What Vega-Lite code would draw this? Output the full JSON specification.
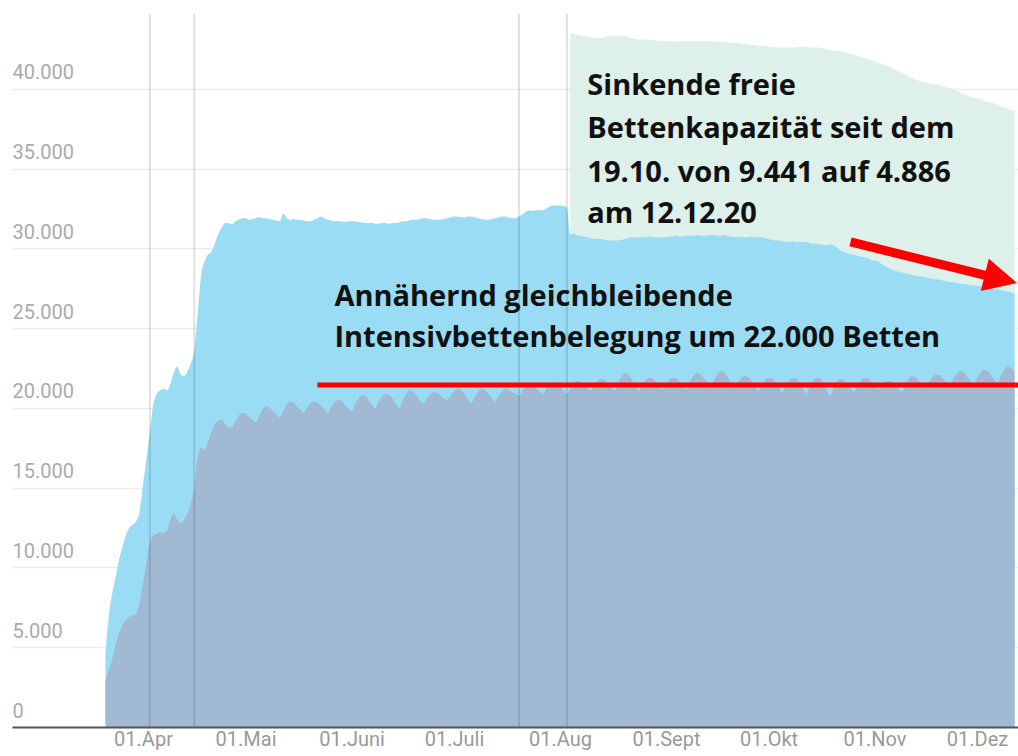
{
"$schema": "https://vega.github.io/schema/vega-lite/v6.json",
"width": 1006, "height": 713,
"autosize": {"type": "none"},
"padding": {"left": 12, "top": 14, "right": 0, "bottom": 29},
"background": "white",
"config": {"view": {"stroke": null},
 "axisY": {"labelExpr": "replace(format(datum.value, ','), ',', '.')",
   "grid": true, "gridColor": "#000000", "gridOpacity": 0.08, "gridWidth": 1.5,
   "ticks": false, "tickSize": 0, "domain": false,
   "labelAlign": "left", "labelPadding": 0, "labelBaseline": "alphabetic", "labelOffset": -10,
   "labelFont": "Roboto", "labelFontSize": 20, "labelColor": "#aaaaaa", "zindex": 1}},
"datasets": {
"main": [
{"d":"2020-03-21","b":4500,"g":2900},{"d":"2020-03-22","b":7000,"g":3600},{"d":"2020-03-23","b":8400,"g":4300},{"d":"2020-03-24","b":9400,"g":5200},{"d":"2020-03-25","b":10500,"g":5900},{"d":"2020-03-26","b":11300,"g":6400},{"d":"2020-03-27","b":12000,"g":6700},{"d":"2020-03-28","b":12500,"g":6900},{"d":"2020-03-29","b":12700,"g":7000},{"d":"2020-03-30","b":12900,"g":7100},{"d":"2020-03-31","b":13500,"g":7800},
{"d":"2020-04-01","b":15200,"g":9000},{"d":"2020-04-02","b":16800,"g":10300},{"d":"2020-04-03","b":18500,"g":11600},{"d":"2020-04-04","b":20200,"g":12000},{"d":"2020-04-05","b":20900,"g":12100},{"d":"2020-04-06","b":21100,"g":12200},{"d":"2020-04-07","b":21200,"g":12200},{"d":"2020-04-08","b":21100,"g":12300},{"d":"2020-04-09","b":21500,"g":13000},{"d":"2020-04-10","b":22200,"g":13400},{"d":"2020-04-11","b":22600,"g":13000},{"d":"2020-04-12","b":22100,"g":12800},{"d":"2020-04-13","b":22000,"g":13000},{"d":"2020-04-14","b":22300,"g":13400},{"d":"2020-04-15","b":22800,"g":14000},{"d":"2020-04-16","b":23600,"g":15000},{"d":"2020-04-17","b":25900,"g":16900},{"d":"2020-04-18","b":28300,"g":17500},{"d":"2020-04-19","b":29200,"g":17400},{"d":"2020-04-20","b":29600,"g":17900},{"d":"2020-04-21","b":29800,"g":18500},{"d":"2020-04-22","b":30300,"g":19000},{"d":"2020-04-23","b":30900,"g":19200},{"d":"2020-04-24","b":31300,"g":19300},{"d":"2020-04-25","b":31600,"g":19000},{"d":"2020-04-26","b":31600,"g":18800},{"d":"2020-04-27","b":31500,"g":18800},{"d":"2020-04-28","b":31700,"g":19150},{"d":"2020-04-29","b":31800,"g":19500},{"d":"2020-04-30","b":31900,"g":19700},
{"d":"2020-05-01","b":31900,"g":19650},{"d":"2020-05-02","b":31800,"g":19450},{"d":"2020-05-03","b":31850,"g":19250},{"d":"2020-05-04","b":31900,"g":19100},{"d":"2020-05-05","b":31950,"g":19500},{"d":"2020-05-06","b":31900,"g":19900},{"d":"2020-05-07","b":31900,"g":20100},{"d":"2020-05-08","b":31850,"g":20050},{"d":"2020-05-09","b":31800,"g":19800},{"d":"2020-05-10","b":31750,"g":19600},{"d":"2020-05-11","b":31700,"g":19400},{"d":"2020-05-12","b":32200,"g":19800},{"d":"2020-05-13","b":31900,"g":20200},{"d":"2020-05-14","b":31800,"g":20400},{"d":"2020-05-15","b":31850,"g":20350},{"d":"2020-05-16","b":31800,"g":20100},{"d":"2020-05-17","b":31800,"g":19900},{"d":"2020-05-18","b":31750,"g":19700},{"d":"2020-05-19","b":31700,"g":20000},{"d":"2020-05-20","b":31700,"g":20300},{"d":"2020-05-21","b":31800,"g":20400},{"d":"2020-05-22","b":31900,"g":20350},{"d":"2020-05-23","b":32000,"g":20150},{"d":"2020-05-24","b":31900,"g":19900},{"d":"2020-05-25","b":31800,"g":19700},{"d":"2020-05-26","b":31750,"g":20050},{"d":"2020-05-27","b":31700,"g":20350},{"d":"2020-05-28","b":31700,"g":20500},{"d":"2020-05-29","b":31700,"g":20450},{"d":"2020-05-30","b":31650,"g":20200},{"d":"2020-05-31","b":31700,"g":20000},
{"d":"2020-06-01","b":31700,"g":19800},{"d":"2020-06-02","b":31700,"g":20200},{"d":"2020-06-03","b":31650,"g":20600},{"d":"2020-06-04","b":31650,"g":20800},{"d":"2020-06-05","b":31600,"g":20750},{"d":"2020-06-06","b":31600,"g":20500},{"d":"2020-06-07","b":31600,"g":20200},{"d":"2020-06-08","b":31550,"g":20000},{"d":"2020-06-09","b":31550,"g":20400},{"d":"2020-06-10","b":31600,"g":20750},{"d":"2020-06-11","b":31600,"g":20900},{"d":"2020-06-12","b":31550,"g":20850},{"d":"2020-06-13","b":31600,"g":20600},{"d":"2020-06-14","b":31600,"g":20250},{"d":"2020-06-15","b":31650,"g":20000},{"d":"2020-06-16","b":31700,"g":20450},{"d":"2020-06-17","b":31700,"g":20900},{"d":"2020-06-18","b":31750,"g":21100},{"d":"2020-06-19","b":31800,"g":21050},{"d":"2020-06-20","b":31800,"g":20800},{"d":"2020-06-21","b":31850,"g":20500},{"d":"2020-06-22","b":31900,"g":20300},{"d":"2020-06-23","b":31900,"g":20600},{"d":"2020-06-24","b":31850,"g":20850},{"d":"2020-06-25","b":31800,"g":21000},{"d":"2020-06-26","b":31800,"g":20950},{"d":"2020-06-27","b":31800,"g":20800},{"d":"2020-06-28","b":31850,"g":20600},{"d":"2020-06-29","b":31900,"g":20500},{"d":"2020-06-30","b":31950,"g":20800},
{"d":"2020-07-01","b":32000,"g":21050},{"d":"2020-07-02","b":32000,"g":21200},{"d":"2020-07-03","b":31950,"g":21150},{"d":"2020-07-04","b":31950,"g":20900},{"d":"2020-07-05","b":32000,"g":20550},{"d":"2020-07-06","b":32000,"g":20300},{"d":"2020-07-07","b":31950,"g":20650},{"d":"2020-07-08","b":31900,"g":21000},{"d":"2020-07-09","b":31850,"g":21200},{"d":"2020-07-10","b":31800,"g":21150},{"d":"2020-07-11","b":31800,"g":20900},{"d":"2020-07-12","b":31850,"g":20650},{"d":"2020-07-13","b":31900,"g":20400},{"d":"2020-07-14","b":31950,"g":20750},{"d":"2020-07-15","b":32000,"g":21050},{"d":"2020-07-16","b":32000,"g":21200},{"d":"2020-07-17","b":31950,"g":21150},{"d":"2020-07-18","b":31900,"g":21000},{"d":"2020-07-19","b":31900,"g":20900},{"d":"2020-07-20","b":32000,"g":20800},{"d":"2020-07-21","b":32150,"g":21100},{"d":"2020-07-22","b":32300,"g":21350},{"d":"2020-07-23","b":32400,"g":21500},{"d":"2020-07-24","b":32350,"g":21450},{"d":"2020-07-25","b":32400,"g":21250},{"d":"2020-07-26","b":32400,"g":21050},{"d":"2020-07-27","b":32400,"g":20900},{"d":"2020-07-28","b":32500,"g":21200},{"d":"2020-07-29","b":32650,"g":21450},{"d":"2020-07-30","b":32700,"g":21600},{"d":"2020-07-31","b":32700,"g":21550},
{"d":"2020-08-01","b":32700,"g":21350},{"d":"2020-08-02","b":32650,"g":21100},{"d":"2020-08-03","b":32600,"g":20900},{"d":"2020-08-04","b":30900,"g":21250,"r":43500},{"d":"2020-08-05","b":30900,"g":21550,"r":43450},{"d":"2020-08-06","b":30850,"g":21700,"r":43400},{"d":"2020-08-07","b":30800,"g":21650,"r":43350},{"d":"2020-08-08","b":30750,"g":21450,"r":43300},{"d":"2020-08-09","b":30700,"g":21250,"r":43300},{"d":"2020-08-10","b":30650,"g":21100,"r":43250},{"d":"2020-08-11","b":30600,"g":21400,"r":43200},{"d":"2020-08-12","b":30600,"g":21650,"r":43200},{"d":"2020-08-13","b":30600,"g":21800,"r":43200},{"d":"2020-08-14","b":30550,"g":21750,"r":43250},{"d":"2020-08-15","b":30500,"g":21550,"r":43300},{"d":"2020-08-16","b":30500,"g":21300,"r":43300},{"d":"2020-08-17","b":30500,"g":21100,"r":43300},{"d":"2020-08-18","b":30500,"g":21550,"r":43300},{"d":"2020-08-19","b":30550,"g":21950,"r":43300},{"d":"2020-08-20","b":30600,"g":22200,"r":43300},{"d":"2020-08-21","b":30650,"g":22100,"r":43250},{"d":"2020-08-22","b":30700,"g":21800,"r":43200},{"d":"2020-08-23","b":30700,"g":21400,"r":43150},{"d":"2020-08-24","b":30700,"g":21100,"r":43100},{"d":"2020-08-25","b":30700,"g":21450,"r":43100},{"d":"2020-08-26","b":30700,"g":21750,"r":43100},{"d":"2020-08-27","b":30750,"g":21900,"r":43100},{"d":"2020-08-28","b":30700,"g":21850,"r":43050},{"d":"2020-08-29","b":30700,"g":21650,"r":43050},{"d":"2020-08-30","b":30700,"g":21400,"r":43000},{"d":"2020-08-31","b":30700,"g":21200,"r":43000},
{"d":"2020-09-01","b":30700,"g":21500,"r":43000},{"d":"2020-09-02","b":30750,"g":21750,"r":43000},{"d":"2020-09-03","b":30750,"g":21900,"r":43000},{"d":"2020-09-04","b":30800,"g":21850,"r":42950},{"d":"2020-09-05","b":30750,"g":21650,"r":43000},{"d":"2020-09-06","b":30750,"g":21400,"r":43000},{"d":"2020-09-07","b":30800,"g":21200,"r":43000},{"d":"2020-09-08","b":30800,"g":21600,"r":42950},{"d":"2020-09-09","b":30800,"g":22000,"r":43000},{"d":"2020-09-10","b":30850,"g":22200,"r":43000},{"d":"2020-09-11","b":30800,"g":22150,"r":43000},{"d":"2020-09-12","b":30800,"g":21900,"r":42950},{"d":"2020-09-13","b":30800,"g":21600,"r":43000},{"d":"2020-09-14","b":30850,"g":21300,"r":43000},{"d":"2020-09-15","b":30850,"g":21700,"r":42950},{"d":"2020-09-16","b":30800,"g":22100,"r":43000},{"d":"2020-09-17","b":30800,"g":22300,"r":42950},{"d":"2020-09-18","b":30850,"g":22250,"r":42950},{"d":"2020-09-19","b":30800,"g":21950,"r":42900},{"d":"2020-09-20","b":30750,"g":21600,"r":42900},{"d":"2020-09-21","b":30700,"g":21300,"r":42900},{"d":"2020-09-22","b":30700,"g":21600,"r":42900},{"d":"2020-09-23","b":30750,"g":21850,"r":42850},{"d":"2020-09-24","b":30700,"g":22000,"r":42800},{"d":"2020-09-25","b":30700,"g":21950,"r":42800},{"d":"2020-09-26","b":30750,"g":21700,"r":42750},{"d":"2020-09-27","b":30700,"g":21400,"r":42750},{"d":"2020-09-28","b":30700,"g":21100,"r":42700},{"d":"2020-09-29","b":30700,"g":21450,"r":42700},{"d":"2020-09-30","b":30650,"g":21750,"r":42700},
{"d":"2020-10-01","b":30600,"g":21900,"r":42650},{"d":"2020-10-02","b":30550,"g":21850,"r":42650},{"d":"2020-10-03","b":30500,"g":21600,"r":42600},{"d":"2020-10-04","b":30500,"g":21300,"r":42600},{"d":"2020-10-05","b":30450,"g":21000,"r":42600},{"d":"2020-10-06","b":30400,"g":21400,"r":42600},{"d":"2020-10-07","b":30400,"g":21700,"r":42600},{"d":"2020-10-08","b":30450,"g":21900,"r":42600},{"d":"2020-10-09","b":30400,"g":21850,"r":42600},{"d":"2020-10-10","b":30400,"g":21600,"r":42650},{"d":"2020-10-11","b":30400,"g":21250,"r":42650},{"d":"2020-10-12","b":30400,"g":20900,"r":42650},{"d":"2020-10-13","b":30350,"g":21300,"r":42600},{"d":"2020-10-14","b":30300,"g":21700,"r":42600},{"d":"2020-10-15","b":30300,"g":21900,"r":42600},{"d":"2020-10-16","b":30250,"g":21850,"r":42600},{"d":"2020-10-17","b":30250,"g":21550,"r":42550},{"d":"2020-10-18","b":30200,"g":21150,"r":42500},{"d":"2020-10-19","b":30250,"g":20800,"r":42450},{"d":"2020-10-20","b":30200,"g":21200,"r":42400},{"d":"2020-10-21","b":30050,"g":21600,"r":42400},{"d":"2020-10-22","b":29900,"g":21800,"r":42350},{"d":"2020-10-23","b":29800,"g":21750,"r":42300},{"d":"2020-10-24","b":29700,"g":21500,"r":42250},{"d":"2020-10-25","b":29650,"g":21200,"r":42200},{"d":"2020-10-26","b":29600,"g":21000,"r":42150},{"d":"2020-10-27","b":29550,"g":21400,"r":42100},{"d":"2020-10-28","b":29500,"g":21700,"r":42000},{"d":"2020-10-29","b":29450,"g":21900,"r":41950},{"d":"2020-10-30","b":29400,"g":21850,"r":41900},{"d":"2020-10-31","b":29300,"g":21650,"r":41800},
{"d":"2020-11-01","b":29250,"g":21400,"r":41750},{"d":"2020-11-02","b":29200,"g":21200,"r":41650},{"d":"2020-11-03","b":29050,"g":21400,"r":41600},{"d":"2020-11-04","b":28900,"g":21600,"r":41500},{"d":"2020-11-05","b":28800,"g":21700,"r":41400},{"d":"2020-11-06","b":28700,"g":21650,"r":41300},{"d":"2020-11-07","b":28600,"g":21450,"r":41200},{"d":"2020-11-08","b":28550,"g":21200,"r":41100},{"d":"2020-11-09","b":28500,"g":21000,"r":41000},{"d":"2020-11-10","b":28450,"g":21400,"r":40900},{"d":"2020-11-11","b":28400,"g":21800,"r":40800},{"d":"2020-11-12","b":28350,"g":22000,"r":40700},{"d":"2020-11-13","b":28300,"g":21950,"r":40600},{"d":"2020-11-14","b":28250,"g":21700,"r":40500},{"d":"2020-11-15","b":28250,"g":21500,"r":40450},{"d":"2020-11-16","b":28200,"g":21300,"r":40400},{"d":"2020-11-17","b":28150,"g":21650,"r":40350},{"d":"2020-11-18","b":28100,"g":21950,"r":40300},{"d":"2020-11-19","b":28050,"g":22100,"r":40300},{"d":"2020-11-20","b":28050,"g":22050,"r":40250},{"d":"2020-11-21","b":28000,"g":21850,"r":40150},{"d":"2020-11-22","b":27950,"g":21600,"r":40100},{"d":"2020-11-23","b":27900,"g":21400,"r":40050},{"d":"2020-11-24","b":27900,"g":21800,"r":40000},{"d":"2020-11-25","b":27850,"g":22100,"r":39900},{"d":"2020-11-26","b":27800,"g":22300,"r":39800},{"d":"2020-11-27","b":27750,"g":22250,"r":39700},{"d":"2020-11-28","b":27750,"g":22000,"r":39600},{"d":"2020-11-29","b":27700,"g":21700,"r":39500},{"d":"2020-11-30","b":27700,"g":21500,"r":39450},
{"d":"2020-12-01","b":27650,"g":21900,"r":39400},{"d":"2020-12-02","b":27650,"g":22200,"r":39350},{"d":"2020-12-03","b":27600,"g":22400,"r":39250},{"d":"2020-12-04","b":27600,"g":22350,"r":39200},{"d":"2020-12-05","b":27550,"g":22100,"r":39150},{"d":"2020-12-06","b":27500,"g":21800,"r":39100},{"d":"2020-12-07","b":27450,"g":21600,"r":39000},{"d":"2020-12-08","b":27400,"g":22000,"r":38900},{"d":"2020-12-09","b":27350,"g":22400,"r":38850},{"d":"2020-12-10","b":27300,"g":22600,"r":38750},{"d":"2020-12-11","b":27250,"g":22500,"r":38700},{"d":"2020-12-12","b":27200,"g":22300,"r":38600}
],
"events": [{"d":"2020-04-03"},{"d":"2020-04-16"},{"d":"2020-07-20"},{"d":"2020-08-03"}],
"redline": [{"d":"2020-05-22","d2":"2020-12-13","v":21440}],
"shaft": [{"d":"2020-10-25","d2":"2020-12-05","v":30410,"v2":28230}],
"head": [{"d":"2020-12-08","v":28090}],
"notes": [
{"d":"2020-08-09","v":39620,"t":"Sinkende freie"},
{"d":"2020-08-09","v":36930,"t":"Bettenkapazität seit dem"},
{"d":"2020-08-09","v":34170,"t":"19.10. von 9.441 auf 4.886"},
{"d":"2020-08-09","v":31600,"t":"am 12.12.20"},
{"d":"2020-05-27","v":26400,"t":"Annähernd gleichbleibende"},
{"d":"2020-05-27","v":23820,"t":"Intensivbettenbelegung um 22.000 Betten"}
]
},
"encoding": {
"x": {"field": "d", "type": "temporal",
 "scale": {"type": "utc", "domain": [{"year": 2020, "month": 2, "date": 22, "hours": 16, "utc": true}, {"year": 2020, "month": 12, "date": 13, "utc": true}]},
 "axis": {"title": null, "grid": false, "ticks": false, "tickSize": 0,
  "values": [{"year":2020,"month":4,"date":1,"utc":true},{"year":2020,"month":5,"date":1,"utc":true},{"year":2020,"month":6,"date":1,"utc":true},{"year":2020,"month":7,"date":1,"utc":true},{"year":2020,"month":8,"date":1,"utc":true},{"year":2020,"month":9,"date":1,"utc":true},{"year":2020,"month":10,"date":1,"utc":true},{"year":2020,"month":11,"date":1,"utc":true},{"year":2020,"month":12,"date":1,"utc":true}],
  "labelExpr": "'01.' + ['Jan','Feb','Mrz','Apr','Mai','Juni','Juli','Aug','Sept','Okt','Nov','Dez'][utcmonth(datum.value)]",
  "domain": true, "domainColor": "#555555", "domainWidth": 2,
  "labelFont": "Roboto", "labelFontSize": 20, "labelColor": "#999999",
  "labelPadding": 18, "labelBaseline": "alphabetic", "labelFlush": false, "labelOverlap": false, "zindex": 1}}
},
"layer": [
{"data": {"name": "main"}, "mark": {"type": "area", "interpolate": "monotone", "color": "#ddf0ea"},
 "encoding": {"y": {"field": "r", "type": "quantitative",
  "scale": {"domain": [0, 44700], "nice": false, "zero": true}, "axis": {"title": null, "values": [0,5000,10000,15000,20000,25000,30000,35000,40000]}}}},
{"data": {"name": "main"}, "mark": {"type": "area", "interpolate": "monotone", "color": "#9bdcf5"},
 "encoding": {"y": {"field": "b", "type": "quantitative", "axis": {"title": null, "values": [0,5000,10000,15000,20000,25000,30000,35000,40000]}}}},
{"data": {"name": "main"}, "mark": {"type": "area", "interpolate": "monotone", "color": "#a2b9d4"},
 "encoding": {"y": {"field": "g", "type": "quantitative", "axis": {"title": null, "values": [0,5000,10000,15000,20000,25000,30000,35000,40000]}}}},
{"data": {"name": "events"}, "mark": {"type": "rule", "color": "#000000", "opacity": 0.12, "strokeWidth": 2},
 "encoding": {}},
{"data": {"name": "redline"}, "mark": {"type": "rule", "color": "#ff0000", "strokeWidth": 5},
 "encoding": {"x2": {"field": "d2"}, "y": {"field": "v", "type": "quantitative", "axis": {"title": null, "values": [0,5000,10000,15000,20000,25000,30000,35000,40000]}}}},
{"data": {"name": "shaft"}, "mark": {"type": "rule", "color": "#ff0000", "strokeWidth": 9},
 "encoding": {"x2": {"field": "d2"}, "y": {"field": "v", "type": "quantitative", "axis": {"title": null, "values": [0,5000,10000,15000,20000,25000,30000,35000,40000]}}, "y2": {"field": "v2"}}},
{"data": {"name": "head"}, "mark": {"type": "point", "shape": "M-1,-1L1,0L-1,1Z", "filled": true, "color": "#ff0000", "opacity": 1, "size": 1100, "angle": 14, "strokeWidth": 0},
 "encoding": {"y": {"field": "v", "type": "quantitative", "axis": {"title": null, "values": [0,5000,10000,15000,20000,25000,30000,35000,40000]}}}},
{"data": {"name": "notes"}, "mark": {"type": "text", "align": "left", "baseline": "alphabetic", "font": "Open Sans", "fontWeight": "bold", "fontSize": 29, "color": "#111111"},
 "encoding": {"y": {"field": "v", "type": "quantitative", "axis": {"title": null, "values": [0,5000,10000,15000,20000,25000,30000,35000,40000]}}, "text": {"field": "t"}}}
]
}
